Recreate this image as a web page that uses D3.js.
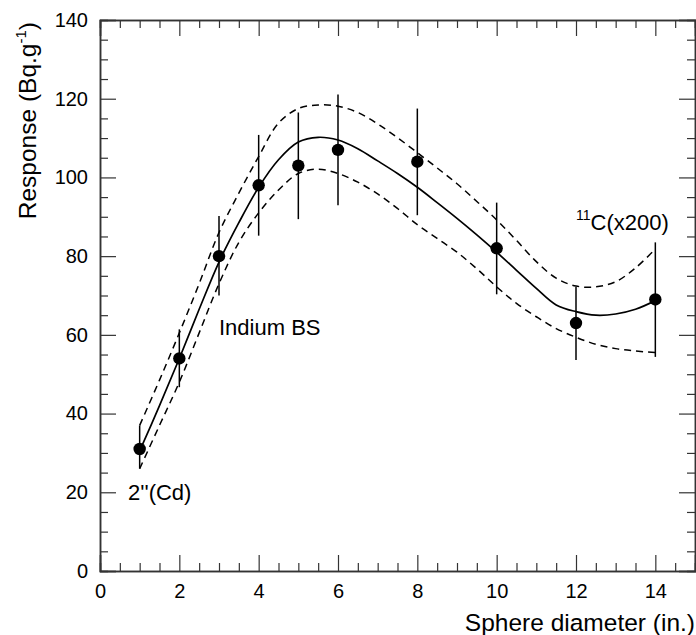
<!DOCTYPE html>
<html>
<head>
<meta charset="utf-8">
<script src="https://cdn.jsdelivr.net/npm/d3@7"></script>
<style>
  body { margin: 0; background: #fff; }
  svg { display: block; font-family: "Liberation Sans", Arial, sans-serif; }
</style>
</head>
<body>
<svg id="chart" width="696" height="635"></svg>
<script>
// measured points (sphere diameter, response, error)
const diameters = [1, 2, 3, 4, 5, 6, 8, 10, 12, 14];
const responses = [31, 54, 80, 98, 103, 107, 104, 82, 63, 69];
const errUp     = [37, 61.4, 90.2, 110.8, 116.5, 121.1, 117.5, 93.6, 72.2, 83.5];
const errDown   = [26, 46.7, 70, 85.2, 89.4, 92.9, 90.4, 70.3, 53.6, 54.4];

// fitted response curve and its band
const fitX     = [1, 1.5, 2, 2.5, 3, 3.5, 4, 4.5, 5, 5.5, 6, 6.5, 7, 7.5, 8, 8.5, 9, 9.5, 10, 10.5, 11, 11.5, 12, 12.5, 13, 13.5, 14];
const fitMid   = [30.5, 42, 54, 66.5, 78.5, 88.5, 97.5, 104.5, 109, 110.2, 109.5, 107.3, 104.2, 101, 97.5, 93.6, 89.6, 85.4, 81, 76.4, 71.8, 67.6, 65.9, 65, 65.3, 66.5, 68.7];
const fitHigh  = [37, 48.5, 60.5, 73, 86, 96, 105.3, 113.8, 117.5, 118.4, 118.1, 116.5, 113.6, 110.1, 106.3, 102.4, 98.4, 93.9, 89.2, 84, 78.6, 74.4, 72.4, 72.2, 73.5, 77, 81.8];
const fitLow   = [26, 37, 48, 60.5, 73, 83.5, 91, 96.8, 101, 102.1, 101, 98.8, 95.8, 92.1, 88, 84.5, 81, 76.8, 72.2, 68, 64.6, 61.6, 59.4, 57.6, 56.5, 55.9, 55.5];

const xMajor = [0, 2, 4, 6, 8, 10, 12, 14];
const yMajor = [0, 20, 40, 60, 80, 100, 120, 140];

const svg = d3.select("#chart");
const W = 696, H = 635;
const margin = { top: 20, right: 1, bottom: 64, left: 100 };

const x = d3.scaleLinear().domain([0, 15]).range([margin.left, W - margin.right]);
const y = d3.scaleLinear().domain([0, 140]).range([H - margin.bottom, margin.top]);

const xMinor = d3.range(0, 15.01, 0.5).filter(v => v % 2 !== 0);
const yMinor = d3.range(0, 140.01, 5).filter(v => v % 20 !== 0);

function styleAxis(g) {
  g.select(".domain").attr("stroke", "#333").attr("stroke-width", 1.5);
  g.selectAll(".tick line").attr("stroke", "#333").attr("stroke-width", 1.2);
  g.selectAll(".tick text").attr("fill", "#000").attr("font-size", 20)
    .attr("font-family", "Liberation Sans, Arial, sans-serif");
}

const x0 = H - margin.bottom, yTop = margin.top;
const xl = margin.left, xr = W - margin.right;

// bottom
svg.append("g").attr("transform", `translate(0,${x0})`)
  .call(d3.axisBottom(x).tickValues(xMajor).tickSize(-16).tickPadding(13).tickFormat(d3.format("d")))
  .call(styleAxis);
svg.append("g").attr("transform", `translate(0,${x0})`)
  .call(d3.axisBottom(x).tickValues(xMinor).tickSize(-8).tickFormat(""))
  .call(styleAxis);
// top
svg.append("g").attr("transform", `translate(0,${yTop})`)
  .call(d3.axisTop(x).tickValues(xMajor).tickSize(-16).tickFormat(""))
  .call(styleAxis);
svg.append("g").attr("transform", `translate(0,${yTop})`)
  .call(d3.axisTop(x).tickValues(xMinor).tickSize(-8).tickFormat(""))
  .call(styleAxis);
// left
svg.append("g").attr("transform", `translate(${xl},0)`)
  .call(d3.axisLeft(y).tickValues(yMajor).tickSize(-16).tickPadding(12).tickFormat(d3.format("d")))
  .call(styleAxis);
svg.append("g").attr("transform", `translate(${xl},0)`)
  .call(d3.axisLeft(y).tickValues(yMinor).tickSize(-8).tickFormat(""))
  .call(styleAxis);
// right
svg.append("g").attr("transform", `translate(${xr},0)`)
  .call(d3.axisRight(y).tickValues(yMajor).tickSize(-16).tickFormat(""))
  .call(styleAxis);
svg.append("g").attr("transform", `translate(${xr},0)`)
  .call(d3.axisRight(y).tickValues(yMinor).tickSize(-8).tickFormat(""))
  .call(styleAxis);

// fit curves
const fit = fitX.map((v, i) => ({ x: v, mid: fitMid[i], hi: fitHigh[i], lo: fitLow[i] }));
const line = key => d3.line().x(d => x(d.x)).y(d => y(d[key])).curve(d3.curveCatmullRom.alpha(0.5));

svg.append("path").datum(fit).attr("d", line("hi"))
  .attr("fill", "none").attr("stroke", "#000").attr("stroke-width", 1.5).attr("stroke-dasharray", "7,5");
svg.append("path").datum(fit).attr("d", line("lo"))
  .attr("fill", "none").attr("stroke", "#000").attr("stroke-width", 1.5).attr("stroke-dasharray", "7,5");
svg.append("path").datum(fit).attr("d", line("mid"))
  .attr("fill", "none").attr("stroke", "#000").attr("stroke-width", 1.7);

// data points with error bars
const pts = diameters.map((d, i) => ({ d, r: responses[i], up: errUp[i], dn: errDown[i] }));
svg.append("g").selectAll("line")
  .data(pts).enter().append("line")
  .attr("x1", p => x(p.d)).attr("x2", p => x(p.d))
  .attr("y1", p => y(p.up)).attr("y2", p => y(p.dn))
  .attr("stroke", "#000").attr("stroke-width", 1.5);
svg.append("g").selectAll("circle")
  .data(pts).enter().append("circle")
  .attr("cx", p => x(p.d)).attr("cy", p => y(p.r)).attr("r", 6.2)
  .attr("fill", "#000");

// annotations
svg.append("text").attr("x", 219).attr("y", 335).attr("font-size", 22).text("Indium BS");
svg.append("text").attr("x", 128).attr("y", 500).attr("font-size", 22).text("2''(Cd)");
const c11 = svg.append("text").attr("x", 576).attr("y", 230).attr("font-size", 22);
c11.append("tspan").attr("font-size", 14).attr("dy", -10).text("11");
c11.append("tspan").attr("dy", 10).text("C(x200)");

// axis titles
svg.append("text").attr("x", 695).attr("y", 631).attr("text-anchor", "end")
  .attr("font-size", 24.5).text("Sphere diameter (in.)");
const yt = svg.append("text").attr("transform", "translate(36,22) rotate(-90)")
  .attr("text-anchor", "end").attr("font-size", 24.5);
yt.append("tspan").text("Response (Bq.g");
yt.append("tspan").attr("font-size", 15).attr("dy", -10).text("-1");
yt.append("tspan").attr("dy", 10).text(")");
</script>
</body>
</html>
